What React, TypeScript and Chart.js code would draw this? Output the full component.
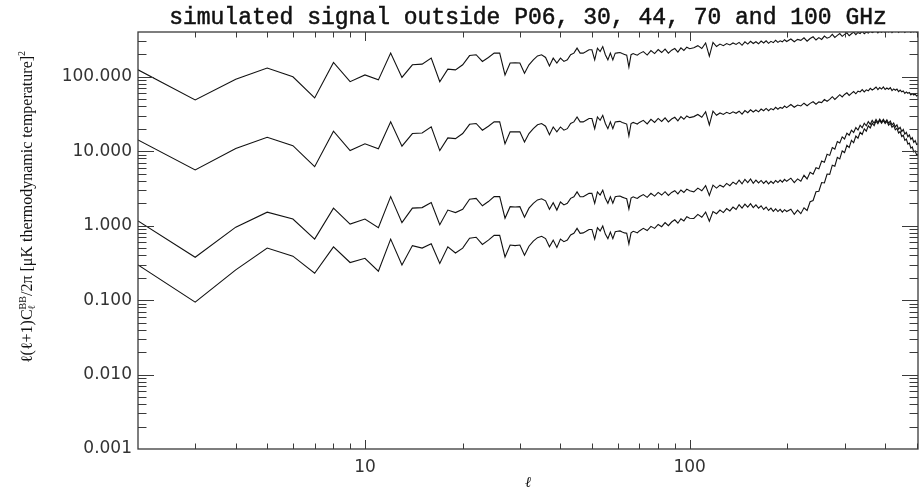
import React, { useEffect, useRef } from 'react';
import { Chart, registerables } from 'chart.js';

Chart.register(...registerables);

// multipole moments (x values)
const ELL = [
  2, 3, 4, 5, 6, 7, 8, 9, 10, 11,
  12, 13, 14, 15, 16, 17, 18, 19, 20, 21,
  22, 23, 24, 25, 26, 27, 28, 29, 30, 31,
  32, 33, 34, 35, 36, 37, 38, 39, 40, 41,
  42, 43, 44, 45, 46, 47, 48, 49, 50, 51,
  52, 53, 54, 55, 56, 57, 58, 59, 60, 61,
  62, 63, 64, 65, 66, 67, 68, 69, 70,
  72, 74, 76, 78, 80, 82, 84, 86, 88, 90, 92, 94, 96, 98, 100,
  103, 106, 109, 112, 115, 118, 121, 124, 127, 130, 133, 136, 139, 142, 145, 148, 151,
  154, 157, 160, 163, 166, 169, 172, 175, 178, 181, 184, 187, 190, 193, 196, 199,
  205, 210, 215, 220, 225, 230, 235, 240, 245, 250,
  255, 260, 265, 270, 275, 280, 285, 290, 295, 300,
  305, 310, 315, 320, 325, 330, 335, 340, 345, 350,
  355, 360, 365, 370, 375, 380, 385, 390, 395, 400,
  405, 410, 415, 420, 425, 430, 435, 440, 445, 450,
  455, 460, 465, 470, 475, 480, 485, 490, 495, 500, 505,
];

// top curve
const SERIES_1 = [
  124, 49, 93, 131, 100, 52, 156, 86, 106, 91,
  208, 98, 145, 148, 179, 86, 127, 124, 145, 193,
  198, 161, 182, 208, 208, 106, 153, 154, 153, 112,
  145, 169, 191, 198, 182, 140, 178, 153, 178, 161,
  169, 198, 208, 243, 208, 208, 219, 231, 231, 169,
  243, 219, 255, 198, 169, 208, 169, 208, 210, 212,
  205, 200, 195, 135, 198, 205, 200, 195, 205,
  218, 196, 225, 205, 232, 212, 236, 208, 228, 240, 215, 245, 226, 250, 238,
  245, 262, 240, 285, 190, 290, 255, 275, 262, 280, 268, 285, 272, 290, 265, 295, 275,
  300, 280, 296, 278, 302, 285, 305, 282, 300, 288, 310, 290, 305, 295, 315, 298,
  322, 296, 318, 309, 334, 301, 327, 345, 312, 336,
  318, 352, 330, 341, 372, 338, 360, 381, 350, 372,
  390, 356, 379, 398, 368, 394, 382, 410, 378, 399,
  386, 414, 392, 405, 420, 390, 411, 397, 424, 395,
  412, 401, 426, 393, 415, 404, 422, 396, 417, 405,
  423, 394, 414, 406, 421, 397, 412, 403, 418, 399, 410,
];

// second curve
const SERIES_2 = [
  14.2, 5.6, 10.9, 15.4, 11.9, 6.2, 18.6, 10.2, 12.6, 10.8,
  24.8, 11.7, 17.3, 17.6, 21.3, 10.2, 15.1, 14.8, 17.3, 23.0,
  23.6, 19.2, 21.7, 24.8, 24.8, 12.6, 18.2, 18.3, 18.2, 13.3,
  17.3, 20.1, 22.7, 23.6, 21.7, 16.7, 21.2, 18.2, 21.2, 19.2,
  20.1, 23.6, 24.8, 28.9, 24.8, 24.8, 26.1, 27.5, 27.5, 20.1,
  28.9, 26.1, 30.4, 23.6, 20.1, 24.8, 20.1, 24.8, 25.0, 25.2,
  24.4, 23.8, 23.2, 16.1, 23.6, 24.4, 23.8, 23.2, 24.4,
  26.0, 23.3, 26.8, 24.4, 27.6, 25.2, 28.1, 24.8, 27.1, 28.6, 25.6, 29.2, 26.9, 29.8, 28.3,
  29.2, 31.2, 28.6, 33.9, 22.6, 34.5, 30.4, 32.7, 31.2, 33.3, 31.9, 33.9, 32.4, 34.5, 31.5, 35.2, 32.9,
  36.0, 33.7, 35.8, 33.8, 36.9, 35.0, 37.6, 35.0, 37.4, 36.1, 39.0, 36.7, 38.8, 37.8, 40.5, 38.5,
  42.5, 39.0, 41.8, 40.6, 44.2, 40.8, 44.0, 46.2, 42.8, 46.0,
  45.0, 49.5, 47.0, 49.8, 54.0, 49.6, 53.5, 57.5, 53.6, 58.0,
  61.0, 56.2, 60.0, 63.5, 59.2, 64.0, 62.6, 67.5, 62.8, 66.8,
  65.0, 70.0, 66.5, 69.2, 73.0, 67.2, 71.6, 68.4, 73.2, 67.6,
  70.8, 68.2, 71.4, 65.4, 68.8, 66.0, 68.4, 63.2, 66.4, 63.0,
  64.6, 59.8, 62.6, 60.2, 61.8, 57.2, 59.4, 57.0, 58.6, 55.2, 56.8,
];

// third curve
const SERIES_3 = [
  1.16, 0.377, 0.955, 1.52, 1.23, 0.66, 1.72, 1.05, 1.23, 0.94,
  2.46, 1.10, 1.72, 1.75, 2.04, 1.03, 1.62, 1.50, 1.66, 2.27,
  2.33, 1.85, 2.11, 2.46, 2.46, 1.26, 1.80, 1.78, 1.80, 1.30,
  1.72, 2.0, 2.22, 2.30, 2.16, 1.66, 2.04, 1.62, 2.08, 1.90,
  2.0, 2.33, 2.45, 2.85, 2.45, 2.45, 2.58, 2.72, 2.72, 2.0,
  2.85, 2.58, 3.0, 2.33, 2.0, 2.45, 2.0, 2.45, 2.48, 2.5,
  2.42, 2.36, 2.3, 1.68, 2.35, 2.44, 2.38, 2.32, 2.45,
  2.62, 2.40, 2.72, 2.50, 2.80, 2.58, 2.86, 2.55, 2.80, 2.95, 2.68, 3.02, 2.80, 3.10, 2.95,
  2.85, 3.20, 2.95, 3.45, 2.55, 3.50, 3.20, 3.50, 3.30, 3.70, 3.45, 3.85, 3.60, 4.10, 3.65, 4.20, 3.80,
  4.25, 3.70, 4.10, 3.75, 4.05, 3.70, 4.00, 3.65, 3.95, 3.70, 4.05, 3.80, 4.10, 3.85, 4.20, 3.95,
  4.35, 3.80, 4.25, 3.95, 4.75, 4.25, 5.20, 4.90, 6.00, 5.80,
  7.40, 7.10, 9.10, 8.80, 11.2, 10.7, 13.5, 12.9, 15.6, 14.6,
  17.5, 16.4, 19.2, 17.9, 20.8, 19.3, 22.4, 20.7, 23.8, 22.0,
  25.0, 23.0, 26.0, 23.8, 26.8, 24.4, 27.0, 24.6, 26.9, 24.5,
  26.4, 23.8, 25.4, 22.6, 24.0, 21.2, 22.6, 19.8, 21.0, 18.4,
  19.6, 17.0, 18.0, 15.6, 16.6, 14.4, 15.2, 13.2, 13.9, 12.3, 12.6,
];

// bottom curve
const SERIES_4 = [
  0.297, 0.094, 0.255, 0.50, 0.39, 0.23, 0.52, 0.32, 0.365, 0.245,
  0.66, 0.297, 0.54, 0.50, 0.57, 0.31, 0.52, 0.43, 0.50, 0.68,
  0.70, 0.56, 0.64, 0.74, 0.74, 0.38, 0.55, 0.54, 0.55, 0.40,
  0.53, 0.62, 0.69, 0.72, 0.67, 0.52, 0.64, 0.51, 0.66, 0.61,
  0.64, 0.75, 0.79, 0.92, 0.79, 0.80, 0.84, 0.89, 0.89, 0.66,
  0.94, 0.85, 0.99, 0.77, 0.67, 0.82, 0.67, 0.83, 0.84, 0.85,
  0.82, 0.80, 0.79, 0.57, 0.80, 0.84, 0.82, 0.80, 0.85,
  0.92, 0.86, 0.98, 0.92, 1.04, 0.97, 1.10, 1.00, 1.12, 1.20, 1.08, 1.24, 1.16, 1.32, 1.26,
  1.25, 1.42, 1.30, 1.52, 1.15, 1.55, 1.45, 1.62, 1.50, 1.70, 1.58, 1.78, 1.65, 1.92, 1.72, 1.95, 1.78,
  1.98, 1.75, 1.90, 1.72, 1.85, 1.65, 1.78, 1.60, 1.72, 1.56, 1.68, 1.55, 1.66, 1.52, 1.64, 1.55,
  1.66, 1.42, 1.62, 1.45, 1.74, 1.60, 2.10, 2.18, 2.85, 2.90,
  3.80, 3.75, 4.95, 4.90, 6.50, 6.30, 8.30, 7.90, 10.1, 9.60,
  12.0, 11.2, 14.0, 13.0, 16.0, 15.0, 18.0, 16.8, 20.0, 18.6,
  22.0, 20.6, 23.8, 22.0, 25.4, 23.4, 26.0, 23.8, 25.9, 23.6,
  25.2, 22.4, 23.8, 21.0, 22.2, 19.4, 20.4, 17.6, 18.4, 15.8,
  16.4, 14.0, 14.6, 12.5, 12.9, 11.0, 11.4, 9.8, 10.1, 8.9, 9.1,
];

const Y_DECADES = [0.001, 0.01, 0.1, 1, 10, 100];
const Y_TICK_LABELS = ['0.001', '0.010', '0.100', '1.000', '10.000', '100.000'];
const X_DECADES = [10, 100];
const X_TICK_LABELS = ['10', '100'];
const TITLE = 'simulated signal outside P06, 30, 44, 70 and 100 GHz';
const X_TITLE = 'ℓ';

const INK = '#111';
const AXIS = '#3a3a3a';

function drawYLabel(ctx: CanvasRenderingContext2D, cx: number, cy: number) {
  const main = '16px "Liberation Serif"';
  const small = '10px "Liberation Serif"';
  type Seg = { parts: { t: string; font: string; dy: number }[] };
  const segs: Seg[] = [
    { parts: [{ t: 'ℓ(ℓ+1)C', font: main, dy: 0 }] },
    { parts: [{ t: 'ℓ', font: small, dy: 4 }, { t: 'BB', font: small, dy: -5 }] },
    { parts: [{ t: '/2π [μK thermodynamic temperature]', font: main, dy: 0 }] },
    { parts: [{ t: '2', font: small, dy: -6 }] },
  ];
  const widths = segs.map((s) =>
    Math.max(
      ...s.parts.map((p) => {
        ctx.font = p.font;
        return ctx.measureText(p.t).width;
      })
    )
  );
  const total = widths.reduce((a, b) => a + b, 0);
  ctx.save();
  ctx.translate(cx, cy);
  ctx.rotate(-Math.PI / 2);
  ctx.fillStyle = INK;
  ctx.textAlign = 'left';
  ctx.textBaseline = 'middle';
  let x = -total / 2;
  segs.forEach((s, i) => {
    s.parts.forEach((p) => {
      ctx.font = p.font;
      ctx.fillText(p.t, x, p.dy);
    });
    x += widths[i];
  });
  ctx.restore();
}

const framePlugin = {
  id: 'frameAndTicks',
  afterDatasetsDraw(chart: any) {
    const { ctx, chartArea, scales } = chart;
    const { left, right, top, bottom } = chartArea;
    const xs = scales.x;
    const ys = scales.y;
    ctx.save();
    ctx.strokeStyle = AXIS;
    ctx.lineWidth = 1.3;
    ctx.strokeRect(left, top, right - left, bottom - top);
    ctx.lineWidth = 1;
    ctx.beginPath();
    for (const d of [1, 10, 100]) {
      for (let m = 1; m <= 9; m++) {
        const v = d * m;
        if (v <= xs.min || v >= xs.max) continue;
        const px = Math.round(xs.getPixelForValue(v)) + 0.5;
        const len = m === 1 ? 9 : 5.5;
        ctx.moveTo(px, bottom);
        ctx.lineTo(px, bottom - len);
        ctx.moveTo(px, top);
        ctx.lineTo(px, top + len);
      }
    }
    for (const d of [0.001, 0.01, 0.1, 1, 10, 100]) {
      for (let m = 1; m <= 9; m++) {
        const v = d * m;
        if (v <= ys.min * 1.0001 || v >= ys.max * 0.9999) continue;
        const py = Math.round(ys.getPixelForValue(v)) + 0.5;
        const len = m === 1 ? 16 : 8.5;
        ctx.moveTo(left, py);
        ctx.lineTo(left + len, py);
        ctx.moveTo(right, py);
        ctx.lineTo(right - len, py);
      }
    }
    ctx.stroke();

    ctx.fillStyle = INK;
    ctx.strokeStyle = INK;
    ctx.lineWidth = 0.5;
    ctx.font = '23px "Liberation Mono"';
    ctx.textAlign = 'center';
    ctx.textBaseline = 'alphabetic';
    ctx.fillText(TITLE, (left + right) / 2, 24);
    ctx.strokeText(TITLE, (left + right) / 2, 24);

    ctx.font = 'italic 15px "Liberation Serif"';
    ctx.fillText(X_TITLE, (left + right) / 2, 487);

    drawYLabel(ctx, 28, 207);
    ctx.restore();
  },
};

export default function App() {
  const ref = useRef<HTMLCanvasElement | null>(null);
  useEffect(() => {
    if (!ref.current) return;
    const mk = (vals: number[]) => ({
      data: ELL.map((x, i) => ({ x, y: vals[i] })),
      borderColor: INK,
      borderWidth: 1.1,
      pointRadius: 0,
      fill: false,
      tension: 0,
    });
    const chart = new Chart(ref.current, {
      type: 'line',
      data: { datasets: [mk(SERIES_1), mk(SERIES_2), mk(SERIES_3), mk(SERIES_4)] },
      options: {
        animation: false,
        responsive: false,
        devicePixelRatio: 1,
        layout: { padding: { left: 0, right: 4, top: 32, bottom: 0 } },
        plugins: { legend: { display: false }, tooltip: { enabled: false }, title: { display: false } },
        events: [],
        scales: {
          x: {
            type: 'logarithmic',
            min: 2,
            max: 505,
            position: 'bottom',
            grid: { display: false, drawTicks: false },
            border: { display: false },
            afterBuildTicks: (s: any) => {
              s.ticks = X_DECADES.map((v) => ({ value: v }));
            },
            afterFit: (s: any) => {
              s.height = 40;
            },
            ticks: {
              autoSkip: false,
              maxRotation: 0,
              padding: 8,
              color: '#333',
              font: { family: '"DejaVu Sans"', size: 17 },
              callback: (_v: any, i: number) => X_TICK_LABELS[i],
            },
          },
          y: {
            type: 'logarithmic',
            min: 0.001,
            max: 400,
            position: 'left',
            grid: { display: false, drawTicks: false },
            border: { display: false },
            afterBuildTicks: (s: any) => {
              s.ticks = Y_DECADES.map((v) => ({ value: v }));
            },
            afterFit: (s: any) => {
              s.width = 138;
            },
            ticks: {
              autoSkip: false,
              padding: 6,
              color: '#333',
              font: { family: '"DejaVu Sans"', size: 17 },
              callback: (_v: any, i: number) => Y_TICK_LABELS[i],
            },
          },
        },
      } as any,
      plugins: [framePlugin],
    });
    return () => chart.destroy();
  }, []);
  return (
    <div style={{ position: 'fixed', left: 0, top: 0, width: 922, height: 489, background: '#fff' }}>
      <canvas ref={ref} width={922} height={489} style={{ display: 'block', width: 922, height: 489 }} />
    </div>
  );
}
